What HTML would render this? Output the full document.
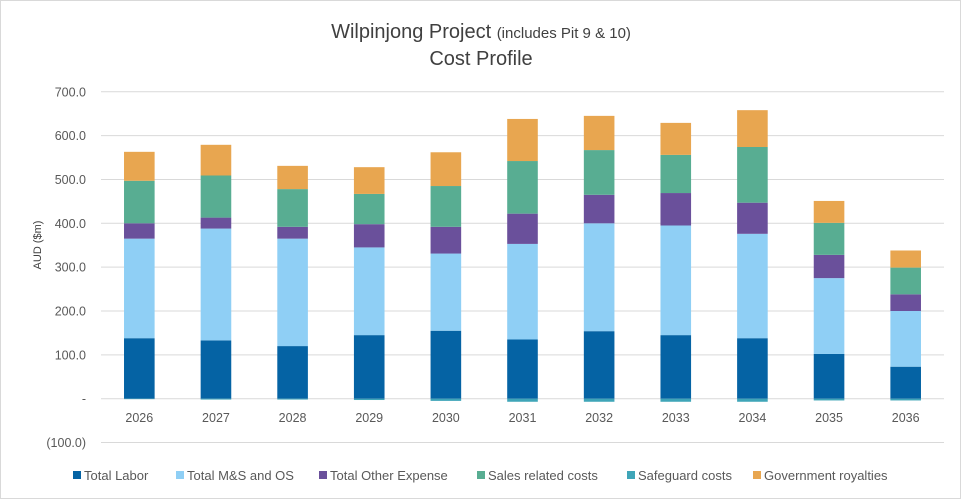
<!DOCTYPE html>
<html><head><meta charset="utf-8"><style>
body{margin:0;background:#fff;font-family:"Liberation Sans",sans-serif;}
#wrap{position:relative;width:961px;height:499px;overflow:hidden;border:1px solid #d9d9d9;box-sizing:border-box;}
svg text{font-family:"Liberation Sans",sans-serif;}
</style></head><body>
<div id="wrap">
<svg id="chart" width="961" height="499">
<text x="480" y="37" text-anchor="middle" font-size="20" fill="#404040">Wilpinjong Project <tspan font-size="15">(includes Pit 9 &amp; 10)</tspan></text>
<text x="480" y="64" text-anchor="middle" font-size="20" fill="#404040">Cost Profile</text>
<text transform="translate(40,244) rotate(-90)" text-anchor="middle" font-size="11" fill="#404040">AUD ($m)</text>
<g id="grid"></g><g id="bars"></g><g id="xlabels"></g><g id="legend"></g>
</svg>
</div>
<script>
const categories=["2026","2027","2028","2029","2030","2031","2032","2033","2034","2035","2036"];
const seriesNames=["Total Labor","Total M&S and OS","Total Other Expense","Sales related costs","Safeguard costs","Government royalties"];
const labor=[138,133,120,145,155,135,154,145,138,102,73];
const msos=[227,255,245,200,176,218,246,250,238,173,127];
const other=[35,25,27,53,61,69,65,74,71,53,38];
const sales=[97,96,86,69,93,120,102,87,127,73,61];
const safeguard=[-1,-2,-2,-3,-5,-7,-7,-7,-7,-4,-4];
const royalties=[66,70,53,61,77,96,78,73,84,50,39];
const yTicks=[-100,0,100,200,300,400,500,600,700];
const yTickLabels=["(100.0)","-","100.0","200.0","300.0","400.0","500.0","600.0","700.0"];
const colors=["#0563a4","#8fcff5","#6a509b","#58ad92","#3fa5b8","#e8a650"];
const series=[labor,msos,other,sales,safeguard,royalties];
const NS="http://www.w3.org/2000/svg";
const plotL=100,plotR=943,zeroY=397.7,pxPer=0.4385;
function y(v){return zeroY-v*pxPer;}
const bw=(plotR-plotL)/categories.length;
function xc(i){return plotL+bw*(i+0.5);}
function mk(t,a,p){const e=document.createElementNS(NS,t);for(const k in a)e.setAttribute(k,a[k]);p.appendChild(e);return e;}
const grid=document.getElementById('grid');
yTicks.forEach((t,i)=>{
 const l=mk('line',{x1:plotL,x2:plotR,y1:y(t),y2:y(t),stroke:'#d9d9d9','stroke-width':1},grid);
 
 
 const tx=mk('text',{x:85,y:y(t)+4.5,'text-anchor':'end','font-size':12.5,fill:'#595959'},grid);
 tx.textContent=yTickLabels[i];
 
 
});
const bars=document.getElementById('bars');
categories.forEach((c,i)=>{
 let pos=0,neg=0;
 series.forEach((s,k)=>{
  const v=s[i];let y0,y1;
  if(v>=0){y0=pos;y1=pos+v;pos=y1;}else{y0=neg;y1=neg+v;neg=y1;}
  const r=mk('rect',{x:xc(i)-15.3,width:30.6,y:Math.min(y(y0),y(y1)),height:Math.abs(y(y1)-y(y0)),fill:colors[k]},bars);
  
  
 });
 const t=mk('text',{x:xc(i),y:421,'text-anchor':'middle','font-size':12.5,fill:'#595959'},document.getElementById('xlabels'));
 t.textContent=c;
 
 
});
const leg=document.getElementById('legend');
const legX=[72,175,318,476,626,752];
seriesNames.forEach((n,k)=>{
 const g=mk('g',{},leg);
 
 
 mk('rect',{x:legX[k],y:470,width:8,height:8,fill:colors[k]},g);
 const t=mk('text',{x:legX[k]+11,y:479,'font-size':13,fill:'#595959'},g);
 t.textContent=n;
});
</script>
</body></html>
